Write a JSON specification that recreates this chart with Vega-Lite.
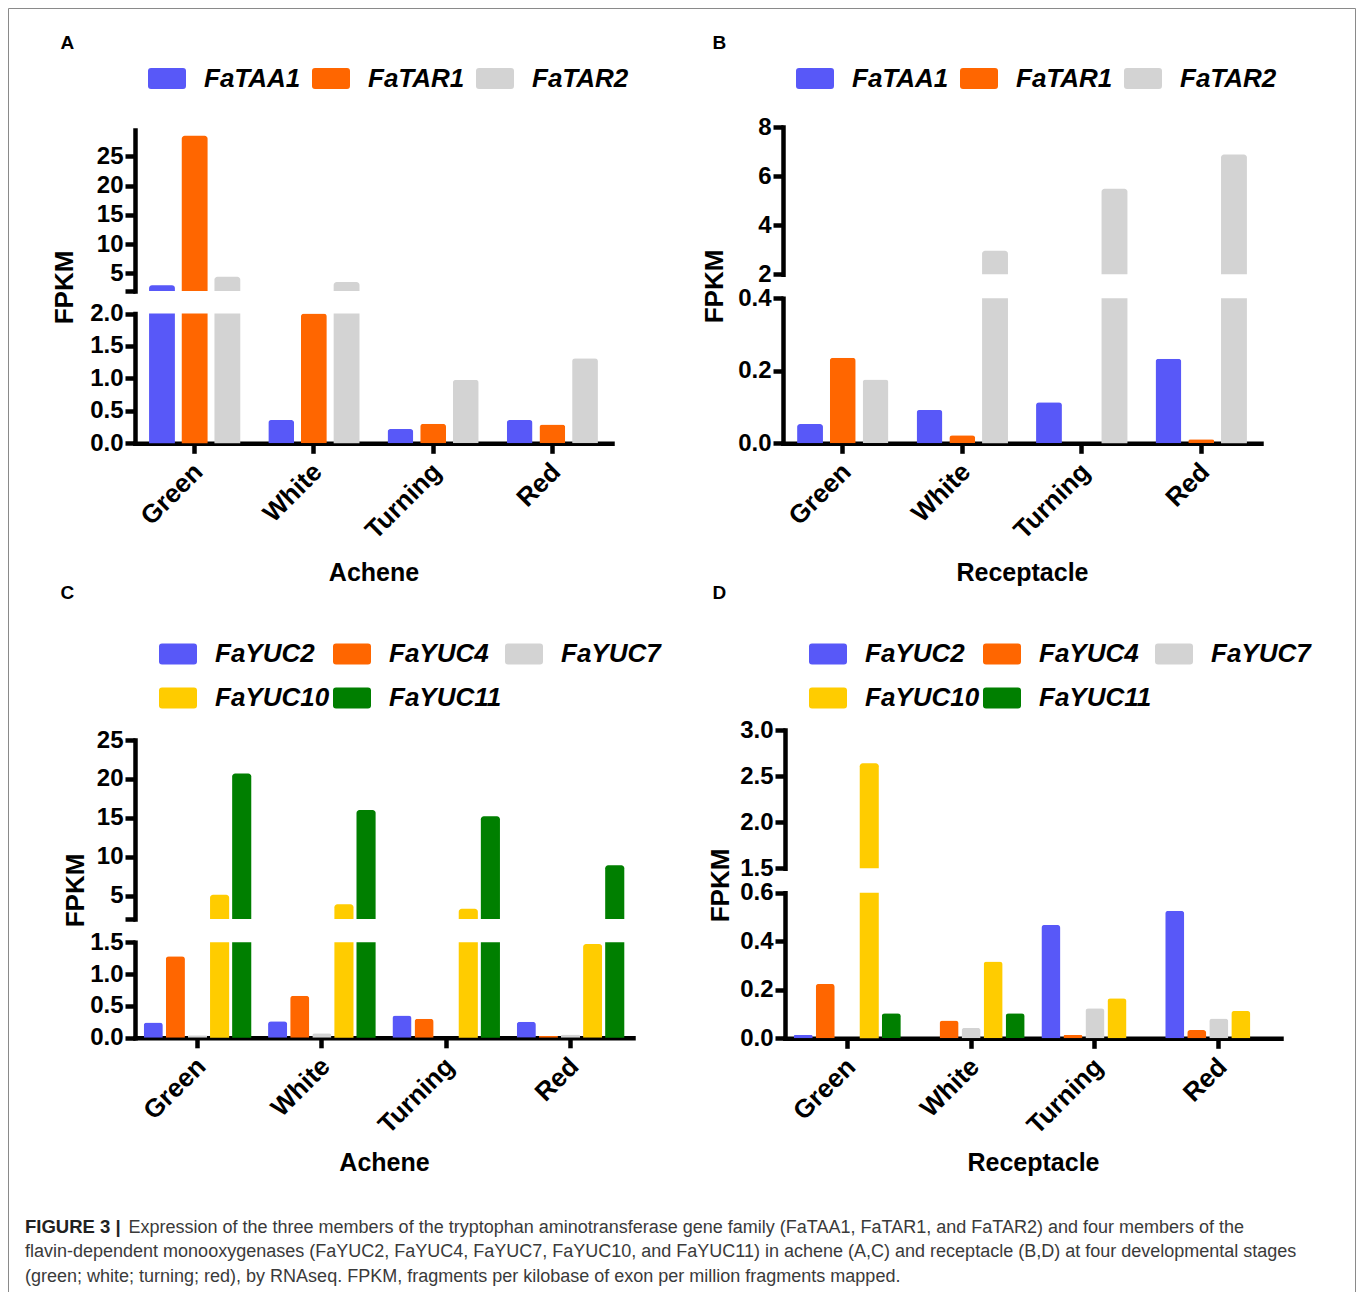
{
  "$schema": "https://vega.github.io/schema/vega-lite/v6.json",
  "autosize": {"type": "none"},
  "padding": {"left": 8, "top": 8, "right": 3, "bottom": 0},
  "width": 1347,
  "height": 1300,
  "background": "white",
  "view": {"stroke": "#8a8a8a", "strokeWidth": 1},
  "title": {
    "text": "FIGURE 3 |", "orient": "bottom", "anchor": "start", "frame": "group",
    "offset": -90, "dx": 17, "baseline": "top", "limit": 0,
    "fontSize": 18.5, "fontWeight": "bold", "color": "#222222",
    "subtitle": ["flavin-dependent monooxygenases (FaYUC2, FaYUC4, FaYUC7, FaYUC10, and FaYUC11) in achene (A,C) and receptacle (B,D) at four developmental stages", "(green; white; turning; red), by RNAseq. FPKM, fragments per kilobase of exon per million fragments mapped."],
    "subtitleFont": "Liberation Sans", "subtitleFontSize": 18, "subtitleFontWeight": "normal",
    "subtitleColor": "#3a3a3a", "subtitleLineHeight": 25, "subtitlePadding": 6.5
  },
  "datasets": {
    "tar": [
      {"tissue": "Achene", "stage": "Green", "gene": "FaTAA1", "value": 3.0},
      {"tissue": "Achene", "stage": "Green", "gene": "FaTAR1", "value": 28.5},
      {"tissue": "Achene", "stage": "Green", "gene": "FaTAR2", "value": 4.43},
      {"tissue": "Achene", "stage": "White", "gene": "FaTAA1", "value": 0.36},
      {"tissue": "Achene", "stage": "White", "gene": "FaTAR1", "value": 2.0},
      {"tissue": "Achene", "stage": "White", "gene": "FaTAR2", "value": 3.53},
      {"tissue": "Achene", "stage": "Turning", "gene": "FaTAA1", "value": 0.22},
      {"tissue": "Achene", "stage": "Turning", "gene": "FaTAR1", "value": 0.3},
      {"tissue": "Achene", "stage": "Turning", "gene": "FaTAR2", "value": 0.98},
      {"tissue": "Achene", "stage": "Red", "gene": "FaTAA1", "value": 0.36},
      {"tissue": "Achene", "stage": "Red", "gene": "FaTAR1", "value": 0.29},
      {"tissue": "Achene", "stage": "Red", "gene": "FaTAR2", "value": 1.31},
      {"tissue": "Receptacle", "stage": "Green", "gene": "FaTAA1", "value": 0.053},
      {"tissue": "Receptacle", "stage": "Green", "gene": "FaTAR1", "value": 0.236},
      {"tissue": "Receptacle", "stage": "Green", "gene": "FaTAR2", "value": 0.176},
      {"tissue": "Receptacle", "stage": "White", "gene": "FaTAA1", "value": 0.092},
      {"tissue": "Receptacle", "stage": "White", "gene": "FaTAR1", "value": 0.022},
      {"tissue": "Receptacle", "stage": "White", "gene": "FaTAR2", "value": 2.96},
      {"tissue": "Receptacle", "stage": "Turning", "gene": "FaTAA1", "value": 0.113},
      {"tissue": "Receptacle", "stage": "Turning", "gene": "FaTAR1", "value": 0},
      {"tissue": "Receptacle", "stage": "Turning", "gene": "FaTAR2", "value": 5.48},
      {"tissue": "Receptacle", "stage": "Red", "gene": "FaTAA1", "value": 0.233},
      {"tissue": "Receptacle", "stage": "Red", "gene": "FaTAR1", "value": 0.011},
      {"tissue": "Receptacle", "stage": "Red", "gene": "FaTAR2", "value": 6.88}
    ],
    "yuc": [
      {"tissue": "Achene", "stage": "Green", "gene": "FaYUC2", "value": 0.24},
      {"tissue": "Achene", "stage": "Green", "gene": "FaYUC4", "value": 1.28},
      {"tissue": "Achene", "stage": "Green", "gene": "FaYUC7", "value": 0.04},
      {"tissue": "Achene", "stage": "Green", "gene": "FaYUC10", "value": 5.1},
      {"tissue": "Achene", "stage": "Green", "gene": "FaYUC11", "value": 20.7},
      {"tissue": "Achene", "stage": "White", "gene": "FaYUC2", "value": 0.26},
      {"tissue": "Achene", "stage": "White", "gene": "FaYUC4", "value": 0.66},
      {"tissue": "Achene", "stage": "White", "gene": "FaYUC7", "value": 0.07},
      {"tissue": "Achene", "stage": "White", "gene": "FaYUC10", "value": 3.88},
      {"tissue": "Achene", "stage": "White", "gene": "FaYUC11", "value": 16.0},
      {"tissue": "Achene", "stage": "Turning", "gene": "FaYUC2", "value": 0.35},
      {"tissue": "Achene", "stage": "Turning", "gene": "FaYUC4", "value": 0.3},
      {"tissue": "Achene", "stage": "Turning", "gene": "FaYUC7", "value": 0},
      {"tissue": "Achene", "stage": "Turning", "gene": "FaYUC10", "value": 3.33},
      {"tissue": "Achene", "stage": "Turning", "gene": "FaYUC11", "value": 15.2},
      {"tissue": "Achene", "stage": "Red", "gene": "FaYUC2", "value": 0.25},
      {"tissue": "Achene", "stage": "Red", "gene": "FaYUC4", "value": 0.03},
      {"tissue": "Achene", "stage": "Red", "gene": "FaYUC7", "value": 0.05},
      {"tissue": "Achene", "stage": "Red", "gene": "FaYUC10", "value": 1.47},
      {"tissue": "Achene", "stage": "Red", "gene": "FaYUC11", "value": 8.9},
      {"tissue": "Receptacle", "stage": "Green", "gene": "FaYUC2", "value": 0.014},
      {"tissue": "Receptacle", "stage": "Green", "gene": "FaYUC4", "value": 0.224},
      {"tissue": "Receptacle", "stage": "Green", "gene": "FaYUC7", "value": 0},
      {"tissue": "Receptacle", "stage": "Green", "gene": "FaYUC10", "value": 2.64},
      {"tissue": "Receptacle", "stage": "Green", "gene": "FaYUC11", "value": 0.103},
      {"tissue": "Receptacle", "stage": "White", "gene": "FaYUC2", "value": 0},
      {"tissue": "Receptacle", "stage": "White", "gene": "FaYUC4", "value": 0.073},
      {"tissue": "Receptacle", "stage": "White", "gene": "FaYUC7", "value": 0.043},
      {"tissue": "Receptacle", "stage": "White", "gene": "FaYUC10", "value": 0.316},
      {"tissue": "Receptacle", "stage": "White", "gene": "FaYUC11", "value": 0.103},
      {"tissue": "Receptacle", "stage": "Turning", "gene": "FaYUC2", "value": 0.467},
      {"tissue": "Receptacle", "stage": "Turning", "gene": "FaYUC4", "value": 0.014},
      {"tissue": "Receptacle", "stage": "Turning", "gene": "FaYUC7", "value": 0.124},
      {"tissue": "Receptacle", "stage": "Turning", "gene": "FaYUC10", "value": 0.165},
      {"tissue": "Receptacle", "stage": "Turning", "gene": "FaYUC11", "value": 0},
      {"tissue": "Receptacle", "stage": "Red", "gene": "FaYUC2", "value": 0.526},
      {"tissue": "Receptacle", "stage": "Red", "gene": "FaYUC4", "value": 0.034},
      {"tissue": "Receptacle", "stage": "Red", "gene": "FaYUC7", "value": 0.082},
      {"tissue": "Receptacle", "stage": "Red", "gene": "FaYUC10", "value": 0.113},
      {"tissue": "Receptacle", "stage": "Red", "gene": "FaYUC11", "value": 0}
    ]
  },
  "config": {
    "font": "Liberation Sans",
    "view": {"stroke": null},
    "axis": {
      "domainColor": "#000000", "domainWidth": 4.5, "domainCap": "square",
      "tickColor": "#000000", "tickWidth": 4.5, "tickSize": 10, "grid": false,
      "labelFont": "Liberation Sans", "labelFontWeight": "bold", "labelFontSize": 24, "labelColor": "#000000",
      "labelOverlap": false, "labelFlush": false,
      "titleFont": "Liberation Sans", "titleFontWeight": "bold", "titleFontSize": 26, "titleColor": "#000000"
    },
    "axisY": {"labelPadding": 2},
    "axisX": {"labelPadding": 14, "labelOffset": 4, "labelFontSize": 26, "titleFontSize": 25},
    "legend": {
      "padding": 0,
      "symbolType": "M-0.842,-0.553L0.842,-0.553Q1,-0.553,1,-0.395L1,0.395Q1,0.553,0.842,0.553L-0.842,0.553Q-1,0.553,-1,0.395L-1,-0.395Q-1,-0.553,-0.842,-0.553Z",
      "symbolSize": 1444, "symbolStrokeWidth": 0, "symbolOpacity": 1,
      "labelFont": "Liberation Sans", "labelFontSize": 26, "labelFontWeight": "bold", "labelFontStyle": "italic",
      "labelColor": "#000000", "labelOffset": 18, "rowPadding": 12, "labelLimit": 300
    },
    "title": {"font": "Liberation Sans", "color": "#000000", "fontWeight": "bold"}
  },
  "resolve": {"scale": {"x": "independent", "y": "independent", "xOffset": "independent", "color": "independent"}},
  "layer": [
    {
      "data": {"name": "tar"},
      "transform": [{"filter": "datum.tissue === 'Achene'"}],
      "encoding": {
        "x": {"field": "stage", "type": "nominal", "scale": {"domain": ["Green", "White", "Turning", "Red"], "range": [127, 604], "paddingInner": 0.235, "paddingOuter": 0.118}, "axis": {"orient": "bottom", "offset": -864.7, "title": "Achene", "titleY": 137, "titleBaseline": "alphabetic", "labelAngle": -45, "labelAlign": "right", "labelBaseline": "middle"}},
        "xOffset": {"field": "gene", "type": "nominal", "scale": {"domain": ["FaTAA1", "FaTAR1", "FaTAR2"], "paddingInner": 0.21, "paddingOuter": 0}},
        "color": {"field": "gene", "type": "nominal", "scale": {"domain": ["FaTAA1", "FaTAR1", "FaTAR2"], "range": ["#5858F8", "#FF6600", "#D3D3D3"]}, "legend": {"title": null, "orient": "none", "legendX": 140, "legendY": 51.5, "direction": "horizontal", "columns": 3, "columnPadding": 11}}
      },
      "layer": [
        {
          "layer": [
            {"transform": [{"filter": "datum.value <= 2"}], "mark": {"type": "bar", "cornerRadiusTopLeft": 3, "cornerRadiusTopRight": 3},
             "encoding": {"y": {"field": "value", "type": "quantitative", "scale": {"domain": [0, 2], "range": [435.3, 305.5], "clamp": true, "nice": false, "zero": false}, "axis": {"orient": "left", "offset": -127, "values": [0, 0.5, 1, 1.5, 2], "format": ".1f", "title": "FPKM", "titleX": -71, "titleY": 279, "titleAngle": 270, "titleAlign": "center", "titleBaseline": "middle"}}}},
            {"transform": [{"filter": "datum.value > 2"}], "mark": {"type": "bar"},
             "encoding": {"y": {"field": "value", "type": "quantitative", "scale": {"domain": [0, 2], "range": [435.3, 305.5], "clamp": true, "nice": false, "zero": false}, "axis": {"orient": "left", "offset": -127, "values": [0, 0.5, 1, 1.5, 2], "format": ".1f", "title": "FPKM", "titleX": -71, "titleY": 279, "titleAngle": 270, "titleAlign": "center", "titleBaseline": "middle"}}}}
          ]
        },
        {"transform": [{"filter": "datum.value > 2"}], "mark": {"type": "bar", "cornerRadiusTopLeft": 3, "cornerRadiusTopRight": 3},
         "encoding": {"y": {"field": "value", "type": "quantitative", "scale": {"domain": [2, 29.5], "range": [283, 122], "clamp": true, "nice": false, "zero": false}, "axis": {"orient": "left", "offset": -127, "values": [2, 5, 10, 15, 20, 25], "labelExpr": "datum.value == 2 ? '' : datum.label", "title": "A", "titleX": -75, "titleY": 40, "titleAngle": 0, "titleAlign": "left", "titleBaseline": "alphabetic", "titleFontSize": 19}}, "y2": {"datum": 2}}}
      ],
      "resolve": {"scale": {"y": "independent"}}
    },
    {
      "data": {"name": "tar"},
      "transform": [{"filter": "datum.tissue === 'Receptacle'"}],
      "encoding": {
        "x": {"field": "stage", "type": "nominal", "scale": {"domain": ["Green", "White", "Turning", "Red"], "range": [775, 1253], "paddingInner": 0.235, "paddingOuter": 0.118}, "axis": {"orient": "bottom", "offset": -864.7, "title": "Receptacle", "titleY": 137, "titleBaseline": "alphabetic", "labelAngle": -45, "labelAlign": "right", "labelBaseline": "middle"}},
        "xOffset": {"field": "gene", "type": "nominal", "scale": {"domain": ["FaTAA1", "FaTAR1", "FaTAR2"], "paddingInner": 0.21, "paddingOuter": 0}},
        "color": {"field": "gene", "type": "nominal", "scale": {"domain": ["FaTAA1", "FaTAR1", "FaTAR2"], "range": ["#5858F8", "#FF6600", "#D3D3D3"]}, "legend": {"title": null, "orient": "none", "legendX": 788, "legendY": 51.5, "direction": "horizontal", "columns": 3, "columnPadding": 11}}
      },
      "layer": [
        {
          "layer": [
            {"transform": [{"filter": "datum.value <= 0.4"}], "mark": {"type": "bar", "cornerRadiusTopLeft": 3, "cornerRadiusTopRight": 3},
             "encoding": {"y": {"field": "value", "type": "quantitative", "scale": {"domain": [0, 0.4], "range": [435.3, 290.3], "clamp": true, "nice": false, "zero": false}, "axis": {"orient": "left", "offset": -775, "values": [0, 0.2, 0.4], "format": ".1f", "title": "FPKM", "titleX": -69, "titleY": 278, "titleAngle": 270, "titleAlign": "center", "titleBaseline": "middle"}}}},
            {"transform": [{"filter": "datum.value > 0.4"}], "mark": {"type": "bar"},
             "encoding": {"y": {"field": "value", "type": "quantitative", "scale": {"domain": [0, 0.4], "range": [435.3, 290.3], "clamp": true, "nice": false, "zero": false}, "axis": {"orient": "left", "offset": -775, "values": [0, 0.2, 0.4], "format": ".1f", "title": "FPKM", "titleX": -69, "titleY": 278, "titleAngle": 270, "titleAlign": "center", "titleBaseline": "middle"}}}}
          ]
        },
        {"transform": [{"filter": "datum.value > 0.4"}], "mark": {"type": "bar", "cornerRadiusTopLeft": 3, "cornerRadiusTopRight": 3},
         "encoding": {"y": {"field": "value", "type": "quantitative", "scale": {"domain": [2, 8], "range": [266.3, 119], "clamp": true, "nice": false, "zero": false}, "axis": {"orient": "left", "offset": -775, "values": [2, 4, 6, 8], "format": "d", "title": "B", "titleX": -71, "titleY": 40, "titleAngle": 0, "titleAlign": "left", "titleBaseline": "alphabetic", "titleFontSize": 19}}, "y2": {"datum": 2}}}
      ],
      "resolve": {"scale": {"y": "independent"}}
    },
    {
      "data": {"name": "yuc"},
      "transform": [{"filter": "datum.tissue === 'Achene'"}],
      "encoding": {
        "x": {"field": "stage", "type": "nominal", "scale": {"domain": ["Green", "White", "Turning", "Red"], "range": [127, 625], "paddingInner": 0.135, "paddingOuter": 0.07}, "axis": {"orient": "bottom", "offset": -270.2, "title": "Achene", "titleY": 133, "titleBaseline": "alphabetic", "labelAngle": -45, "labelAlign": "right", "labelBaseline": "middle"}},
        "xOffset": {"field": "gene", "type": "nominal", "scale": {"domain": ["FaYUC2", "FaYUC4", "FaYUC7", "FaYUC10", "FaYUC11"], "paddingInner": 0.136, "paddingOuter": 0}},
        "color": {"field": "gene", "type": "nominal", "scale": {"domain": ["FaYUC2", "FaYUC4", "FaYUC7", "FaYUC10", "FaYUC11"], "range": ["#5858F8", "#FF6600", "#D3D3D3", "#FFCC00", "#007F00"]}, "legend": {"title": null, "orient": "none", "legendX": 151, "legendY": 627, "direction": "horizontal", "columns": 3, "columnPadding": 3}}
      },
      "layer": [
        {
          "layer": [
            {"transform": [{"filter": "datum.value <= 1.5"}], "mark": {"type": "bar", "cornerRadiusTopLeft": 3, "cornerRadiusTopRight": 3},
             "encoding": {"y": {"field": "value", "type": "quantitative", "scale": {"domain": [0, 1.5], "range": [1029.8, 934.2], "clamp": true, "nice": false, "zero": false}, "axis": {"orient": "left", "offset": -127, "values": [0, 0.5, 1, 1.5], "format": ".1f", "title": "FPKM", "titleX": -60, "titleY": 882, "titleAngle": 270, "titleAlign": "center", "titleBaseline": "middle"}}}},
            {"transform": [{"filter": "datum.value > 1.5"}], "mark": {"type": "bar"},
             "encoding": {"y": {"field": "value", "type": "quantitative", "scale": {"domain": [0, 1.5], "range": [1029.8, 934.2], "clamp": true, "nice": false, "zero": false}, "axis": {"orient": "left", "offset": -127, "values": [0, 0.5, 1, 1.5], "format": ".1f", "title": "FPKM", "titleX": -60, "titleY": 882, "titleAngle": 270, "titleAlign": "center", "titleBaseline": "middle"}}}}
          ]
        },
        {"transform": [{"filter": "datum.value > 1.5"}], "mark": {"type": "bar", "cornerRadiusTopLeft": 3, "cornerRadiusTopRight": 3},
         "encoding": {"y": {"field": "value", "type": "quantitative", "scale": {"domain": [2, 25], "range": [911, 732], "clamp": true, "nice": false, "zero": false}, "axis": {"orient": "left", "offset": -127, "values": [2, 5, 10, 15, 20, 25], "labelExpr": "datum.value == 2 ? '' : datum.label", "title": "C", "titleX": -75, "titleY": 590, "titleAngle": 0, "titleAlign": "left", "titleBaseline": "alphabetic", "titleFontSize": 19}}, "y2": {"datum": 2}}}
      ],
      "resolve": {"scale": {"y": "independent"}}
    },
    {
      "data": {"name": "yuc"},
      "transform": [{"filter": "datum.tissue === 'Receptacle'"}],
      "encoding": {
        "x": {"field": "stage", "type": "nominal", "scale": {"domain": ["Green", "White", "Turning", "Red"], "range": [777, 1273], "paddingInner": 0.135, "paddingOuter": 0.07}, "axis": {"orient": "bottom", "offset": -269.7, "title": "Receptacle", "titleY": 132, "titleBaseline": "alphabetic", "labelAngle": -45, "labelAlign": "right", "labelBaseline": "middle"}},
        "xOffset": {"field": "gene", "type": "nominal", "scale": {"domain": ["FaYUC2", "FaYUC4", "FaYUC7", "FaYUC10", "FaYUC11"], "paddingInner": 0.136, "paddingOuter": 0}},
        "color": {"field": "gene", "type": "nominal", "scale": {"domain": ["FaYUC2", "FaYUC4", "FaYUC7", "FaYUC10", "FaYUC11"], "range": ["#5858F8", "#FF6600", "#D3D3D3", "#FFCC00", "#007F00"]}, "legend": {"title": null, "orient": "none", "legendX": 801, "legendY": 627, "direction": "horizontal", "columns": 3, "columnPadding": 3}}
      },
      "layer": [
        {
          "layer": [
            {"transform": [{"filter": "datum.value <= 0.6"}], "mark": {"type": "bar", "cornerRadiusTopLeft": 3, "cornerRadiusTopRight": 3},
             "encoding": {"y": {"field": "value", "type": "quantitative", "scale": {"domain": [0, 0.6], "range": [1030.3, 884.7], "clamp": true, "nice": false, "zero": false}, "axis": {"orient": "left", "offset": -777, "values": [0, 0.2, 0.4, 0.6], "format": ".1f", "title": "FPKM", "titleX": -65, "titleY": 877, "titleAngle": 270, "titleAlign": "center", "titleBaseline": "middle"}}}},
            {"transform": [{"filter": "datum.value > 0.6"}], "mark": {"type": "bar"},
             "encoding": {"y": {"field": "value", "type": "quantitative", "scale": {"domain": [0, 0.6], "range": [1030.3, 884.7], "clamp": true, "nice": false, "zero": false}, "axis": {"orient": "left", "offset": -777, "values": [0, 0.2, 0.4, 0.6], "format": ".1f", "title": "FPKM", "titleX": -65, "titleY": 877, "titleAngle": 270, "titleAlign": "center", "titleBaseline": "middle"}}}}
          ]
        },
        {"transform": [{"filter": "datum.value > 0.6"}], "mark": {"type": "bar", "cornerRadiusTopLeft": 3, "cornerRadiusTopRight": 3},
         "encoding": {"y": {"field": "value", "type": "quantitative", "scale": {"domain": [1.5, 3], "range": [860.3, 722], "clamp": true, "nice": false, "zero": false}, "axis": {"orient": "left", "offset": -777, "values": [1.5, 2, 2.5, 3], "format": ".1f", "title": "D", "titleX": -73, "titleY": 590, "titleAngle": 0, "titleAlign": "left", "titleBaseline": "alphabetic", "titleFontSize": 19}}, "y2": {"datum": 1.5}}}
      ],
      "resolve": {"scale": {"y": "independent"}}
    },
    {
      "data": {"values": [{"v": 0}]},
      "mark": {"type": "point", "opacity": 0},
      "encoding": {
        "x": {"field": "v", "type": "quantitative", "scale": {"domain": [0, 1], "range": [0, 1]}, "axis": {"orient": "bottom", "offset": 0, "domain": false, "ticks": false, "labels": false, "title": "Expression of the three members of the tryptophan aminotransferase gene family (FaTAA1, FaTAR1, and FaTAR2) and four members of the", "titleX": 120, "titleY": -90, "titleAlign": "left", "titleBaseline": "top", "titleFontSize": 18, "titleFontWeight": "normal", "titleColor": "#3a3a3a", "titleLimit": 0}}
      }
    }
  ]
}
